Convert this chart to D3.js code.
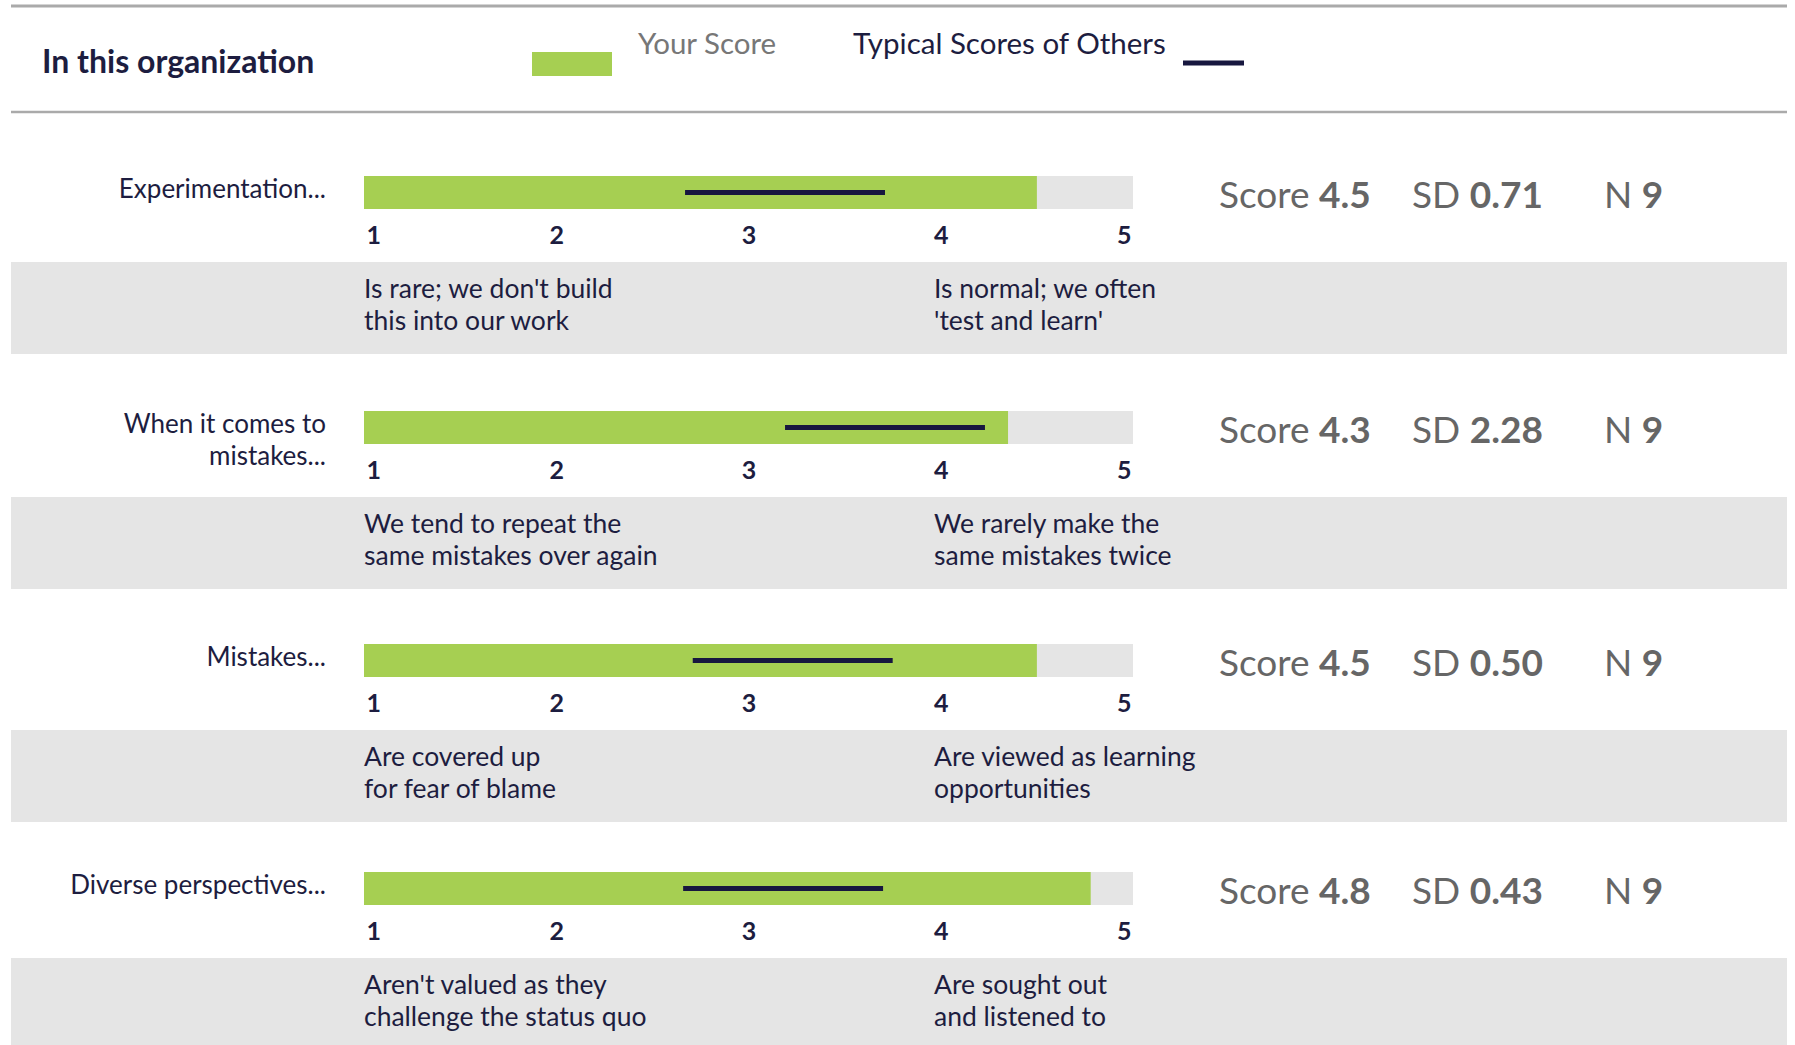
<!DOCTYPE html>
<html>
<head>
<meta charset="utf-8">
<script src="https://cdn.jsdelivr.net/npm/d3@7"></script>
<style>
  html, body { margin: 0; padding: 0; background: #fff; }
  svg { display: block; font-family: Lato, "Open Sans", sans-serif; }
</style>
</head>
<body>
<svg id="chart" width="1795" height="1045"></svg>
<script>
// ---- data ----
const categories = ["Experimentation...", "When it comes to\nmistakes...", "Mistakes...", "Diverse perspectives..."];
const yourScores = [4.5, 4.35, 4.5, 4.78];
const othersLow = [2.67, 3.19, 2.71, 2.66];
const othersHigh = [3.71, 4.23, 3.75, 3.70];
const sdValues = [0.71, 2.28, 0.50, 0.43];
const nValues = [9, 9, 9, 9];
const tickValues = [1, 2, 3, 4, 5];
const lowAnchors = [
  "Is rare; we don't build\nthis into our work",
  "We tend to repeat the\nsame mistakes over again",
  "Are covered up\nfor fear of blame",
  "Aren't valued as they\nchallenge the status quo"
];
const highAnchors = [
  "Is normal; we often\n'test and learn'",
  "We rarely make the\nsame mistakes twice",
  "Are viewed as learning\nopportunities",
  "Are sought out\nand listened to"
];
const legendLabels = ["Your Score", "Typical Scores of Others"];
const titleText = "In this organization";

// ---- style ----
const GREEN = "#a6cf52", NAVY = "#17173f", TEXT = "#1d1d40", BARBG = "#e5e5e5", BAND = "#e5e5e5", STAT = "#666666";

const svg = d3.select("#chart");
const x = d3.scaleLinear().domain([1, 5]).range([364, 1133]);
const rowTops = [176, 411, 644, 872];
const barH = 33;

// header lines
svg.append("line").attr("x1", 11).attr("x2", 1787).attr("y1", 6).attr("y2", 6)
  .attr("stroke", "#aaaaaa").attr("stroke-width", 3);
svg.append("line").attr("x1", 11).attr("x2", 1787).attr("y1", 112).attr("y2", 112)
  .attr("stroke", "#aaaaaa").attr("stroke-width", 2.5);

svg.append("text").attr("x", 42).attr("y", 73).text(titleText)
  .attr("font-size", 32).attr("font-weight", 700).attr("fill", TEXT);

// legend
svg.append("rect").attr("x", 532).attr("y", 52).attr("width", 80).attr("height", 24).attr("fill", GREEN);
svg.append("text").attr("x", 638).attr("y", 54).text(legendLabels[0])
  .attr("font-size", 29.5).attr("fill", "#777777");
svg.append("text").attr("x", 853).attr("y", 54).text(legendLabels[1])
  .attr("font-size", 29.5).attr("fill", TEXT);
svg.append("line").attr("x1", 1183).attr("x2", 1244).attr("y1", 63).attr("y2", 63)
  .attr("stroke", NAVY).attr("stroke-width", 5);

const rows = categories.map((c, i) => ({
  label: c, score: yourScores[i], lo: othersLow[i], hi: othersHigh[i],
  sd: sdValues[i], n: nValues[i], low: lowAnchors[i], high: highAnchors[i], top: rowTops[i]
}));

const g = svg.selectAll("g.row").data(rows).join("g").attr("class", "row")
  .attr("transform", d => `translate(0,${d.top})`);

// band
g.append("rect").attr("x", 11).attr("y", 86).attr("width", 1776).attr("height", 92).attr("fill", BAND);

// bar background and score
g.append("rect").attr("x", x(1)).attr("y", 0).attr("width", x(5) - x(1)).attr("height", barH).attr("fill", BARBG);
g.append("rect").attr("x", x(1)).attr("y", 0).attr("width", d => x(d.score) - x(1)).attr("height", barH).attr("fill", GREEN);
g.append("line").attr("x1", d => x(d.lo)).attr("x2", d => x(d.hi))
  .attr("y1", barH / 2).attr("y2", barH / 2).attr("stroke", NAVY).attr("stroke-width", 5);

// axis
g.append("g").attr("transform", `translate(0,${barH})`).each(function () {
  const ax = d3.select(this).call(d3.axisBottom(x).tickValues(tickValues).tickSize(0).tickPadding(17).tickFormat(d3.format("d")));
  ax.select(".domain").remove();
  ax.selectAll("text").attr("font-size", 25).attr("font-weight", 700).attr("fill", TEXT)
    .attr("font-family", "Lato, sans-serif")
    .attr("text-anchor", d => d === 1 ? "start" : d === 5 ? "end" : "middle")
    .attr("dx", d => d === 1 ? 2 : d === 5 ? -2 : 0);
});

// category label
g.append("text").attr("text-anchor", "end").attr("font-size", 26).attr("fill", TEXT)
  .each(function (d) {
    d3.select(this).selectAll("tspan").data(d.label.split("\n")).join("tspan")
      .attr("x", 326).attr("y", (t, j) => 22 + j * 32).text(t => t);
  });

// anchors
function anchors(key, xpos) {
  g.append("text").attr("font-size", 26.5).attr("fill", TEXT)
    .each(function (d) {
      d3.select(this).selectAll("tspan").data(d[key].split("\n")).join("tspan")
        .attr("x", xpos).attr("y", (t, j) => 86 + 36 + j * 32).text(t => t);
    });
}
anchors("low", 364);
anchors("high", 934);

// stats
const stat = g.append("g").attr("font-size", 37).attr("fill", STAT);
function statText(xpos, lbl, fn) {
  const t = stat.append("text").attr("x", xpos).attr("y", 32);
  t.append("tspan").text(lbl + " ");
  t.append("tspan").attr("font-weight", 700).text(fn);
}
statText(1219, "Score", d => d.score.toFixed(1));
statText(1412, "SD", d => d.sd.toFixed(2));
statText(1604, "N", d => d.n);
</script>
</body>
</html>
